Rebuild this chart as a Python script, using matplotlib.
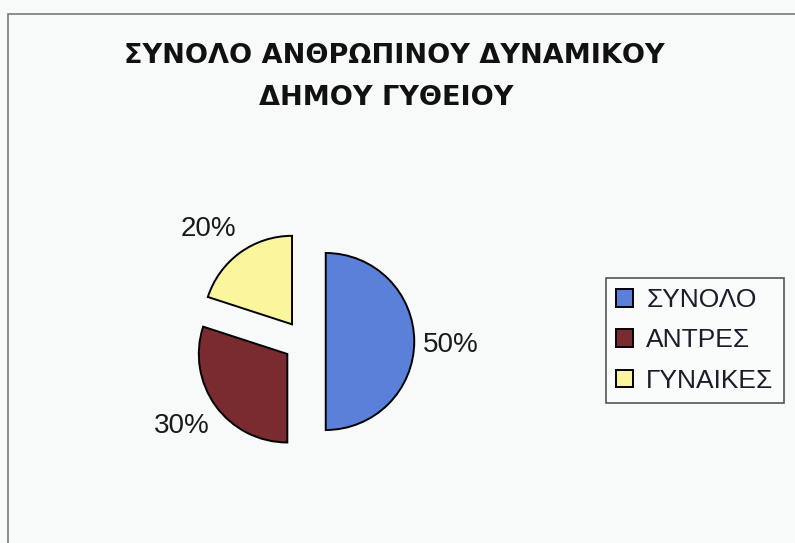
import matplotlib
matplotlib.use("Agg")
import matplotlib.pyplot as plt
from matplotlib.patches import Rectangle

categories = ["ΣΥΝΟΛΟ", "ΑΝΤΡΕΣ", "ΓΥΝΑΙΚΕΣ"]
values = [50, 30, 20]
colors = ["#5b80da", "#7a2b2f", "#fbf69d"]
title_lines = ["ΣΥΝΟΛΟ ΑΝΘΡΩΠΙΝΟΥ ΔΥΝΑΜΙΚΟΥ", "ΔΗΜΟΥ ΓΥΘΕΙΟΥ"]

W, H = 795, 543
fig = plt.figure(figsize=(W / 100, H / 100), dpi=100)
fig.patch.set_facecolor("#f8fafa")

# outer chart frame
fig.add_artist(Rectangle((8 / W, -0.05), 1.1, (1 - 14 / H) + 0.05,
                         transform=fig.transFigure, fill=False,
                         edgecolor="#7a7a7a", linewidth=1.2))

ax = fig.add_axes([0, 0, 1, 1])
ax.set_facecolor("none")

cx, cy, r = 304.5, H - 341.5, 88.5
expl = 0.24 * r
wedges, texts, autotexts = ax.pie(
    values, colors=colors, explode=[expl] * len(values),
    startangle=90, counterclock=False, center=(cx, cy), radius=r,
    autopct="%1.0f%%", pctdistance=1.44, frame=False,
    wedgeprops=dict(edgecolor="black", linewidth=1.4),
    textprops=dict(fontsize=20, family="Liberation Sans", color="#1a1a1a"))
ax.set_xlim(0, W)
ax.set_ylim(0, H)
ax.set_axis_off()

# small nudges of label positions to match the reference layout
nudges = [(-2, -3), (-2, 3), (-9, -8)]
for t, (dx, dy) in zip(autotexts, nudges):
    x, y = t.get_position()
    t.set_position((x + dx, y + dy))

fig.text(394 / W, 1 - 63 / H, title_lines[0], ha="center", va="baseline",
         fontsize=19.5, fontweight="bold", family="DejaVu Sans", color="#111111")
fig.text(386 / W, 1 - 105 / H, title_lines[1], ha="center", va="baseline",
         fontsize=19.5, fontweight="bold", family="DejaVu Sans", color="#111111")

leg = fig.legend(wedges, categories, loc="upper left",
                 bbox_to_anchor=(606 / W, 1 - 278 / H), bbox_transform=fig.transFigure,
                 borderaxespad=0, prop=dict(family="Liberation Sans", size=19),
                 handlelength=0.65, handleheight=0.65, handletextpad=0.5,
                 labelspacing=0.62, borderpad=0.38, fancybox=False, framealpha=1)
leg.get_frame().set_edgecolor("#555555")
leg.get_frame().set_linewidth(1.2)
leg.get_frame().set_facecolor("#fafbfb")
for t in leg.get_texts():
    t.set_color("#1c1c2a")

fig.savefig("out.png", dpi=100, facecolor=fig.get_facecolor())
